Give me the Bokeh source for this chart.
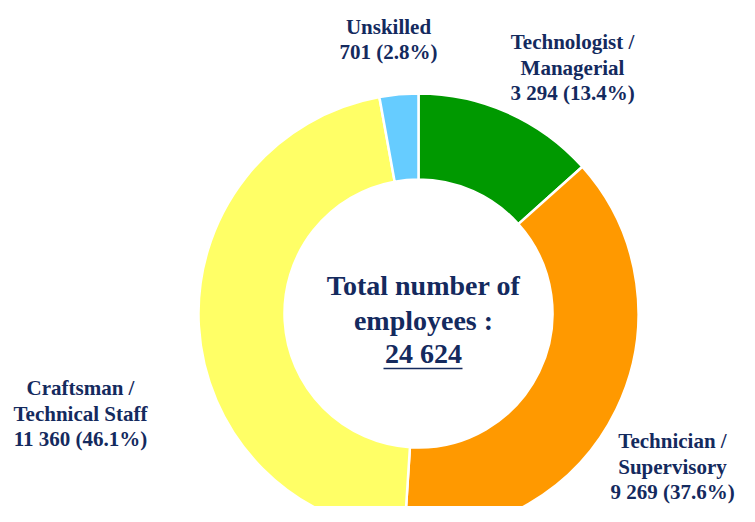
import math
from bokeh.plotting import figure
from bokeh.models import Range1d, ColumnDataSource
from bokeh.core.properties import value
from bokeh.embed import file_html
from bokeh.resources import INLINE

# ---- data ----
categories = ["Technologist /\nManagerial", "Technician /\nSupervisory",
              "Craftsman /\nTechnical Staff", "Unskilled"]
employees = [3294, 9269, 11360, 701]
colors = ["#009900", "#FF9900", "#FFFF66", "#66CCFF"]
center_title = ["Total number of", "employees :"]

# ---- layout (picture px) ----
W, H = 739, 506
label_anchor_x = [572, 672, 80, 388]
label_anchor_y = [67, 466, 413, 39]
line_step = 25.5
cx, cy = 418, 313
r_out, r_in = 220, 134
navy = "#142a5e"
font = value("Liberation Serif")

def Y(sy):  # picture y -> data y
    return 522 - sy

def fmt(n):
    return f"{n:,}".replace(",", " ")

total = sum(employees)

p = figure(width=W, height=H, output_backend="svg", toolbar_location=None,
           x_range=Range1d(0, W), y_range=Range1d(522 - H, 522),
           min_border=0)
p.axis.visible = False
p.grid.visible = False
p.outline_line_color = None
p.background_fill_color = "white"

starts, ends = [], []
cum = 0
for v in employees:
    starts.append(math.pi / 2 - 2 * math.pi * cum / total)
    cum += v
    ends.append(math.pi / 2 - 2 * math.pi * cum / total)

src = ColumnDataSource(dict(start=starts, end=ends, color=colors))
p.annular_wedge(x=cx, y=Y(cy), inner_radius=r_in, outer_radius=r_out,
                start_angle="start", end_angle="end", direction="clock",
                fill_color="color", line_color="white", line_width=2.5, source=src)

# labels
lx, ly, lt = [], [], []
for name, v, ax, ay in zip(categories, employees, label_anchor_x, label_anchor_y):
    pct = 100 * v / total
    lines = name.split("\n") + [f"{fmt(v)} ({pct:.1f}%)"]
    n = len(lines)
    for k, t in enumerate(lines):
        lx.append(ax)
        ly.append(Y(ay + (k - (n - 1) / 2) * line_step))
        lt.append(t)
p.text(x=lx, y=ly, text=lt, text_font=font, text_font_style="bold",
       text_font_size="21px", text_color=navy, text_align="center",
       text_baseline="middle")

# center text
ctexts = center_title + [fmt(total)]
cys = [285, 320, 353]
p.text(x=[423] * 3, y=[Y(v) for v in cys], text=ctexts, text_font=font,
       text_font_style="bold", text_font_size="28px", text_color=navy,
       text_align="center", text_baseline="middle")
p.segment(x0=[383], y0=[Y(368)], x1=[462], y1=[Y(368)], line_color=navy,
          line_width=1.5)

open("out.html", "w").write(file_html(p, INLINE))
